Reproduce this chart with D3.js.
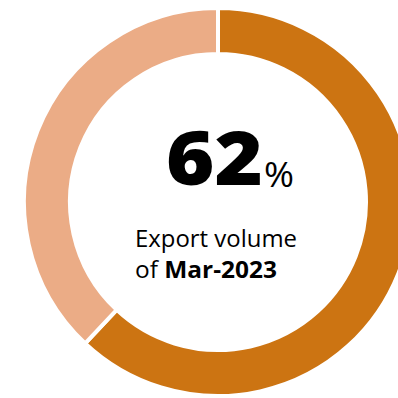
<!DOCTYPE html>
<html>
<head>
<meta charset="utf-8">
<script src="https://cdn.jsdelivr.net/npm/d3@7"></script>
<style>
  html, body { margin: 0; padding: 0; background: #ffffff; }
  svg { display: block; }
</style>
</head>
<body>
<script>
// Share of export volume for the month
const segments = ["Export volume", "Remaining"];
const shares = [62, 38];
const colors = ["#CC7412", "#EBAC86"];
const headline = "62";
const unit = "%";
const captionLine1 = "Export volume";
const captionPrefix = "of ";
const captionPeriod = "Mar-2023";

const W = 398, H = 398;
const cx = 218, cy = 202;
const outerR = 194, innerR = 148;

const svg = d3.select("body").append("svg")
  .attr("width", W).attr("height", H);

const pie = d3.pie().sort(null).value(d => d)(shares);
const arc = d3.arc().innerRadius(innerR).outerRadius(outerR);
const color = d3.scaleOrdinal().domain(segments).range(colors);

const g = svg.append("g").attr("transform", `translate(${cx},${cy})`);
g.selectAll("path")
  .data(pie)
  .join("path")
  .attr("d", arc)
  .attr("fill", (d, i) => color(segments[i]))
  .attr("stroke", "#ffffff")
  .attr("stroke-width", 4)
  .attr("stroke-linejoin", "miter");

const font = "'Open Sans', 'Noto Sans', sans-serif";

svg.append("text")
  .attr("x", 166).attr("y", 185)
  .attr("font-family", font).attr("font-weight", 800)
  .attr("font-size", 74)
  .attr("textLength", 97).attr("lengthAdjust", "spacingAndGlyphs")
  .attr("fill", "#000")
  .text(headline);

svg.append("text")
  .attr("x", 264).attr("y", 187)
  .attr("font-family", font).attr("font-weight", 400)
  .attr("font-size", 34)
  .attr("textLength", 30).attr("lengthAdjust", "spacingAndGlyphs")
  .attr("fill", "#000")
  .text(unit);

svg.append("text")
  .attr("x", 135).attr("y", 247)
  .attr("font-family", font).attr("font-size", 23.5)
  .attr("textLength", 162).attr("lengthAdjust", "spacingAndGlyphs")
  .attr("fill", "#000")
  .text(captionLine1);

const t2 = svg.append("text")
  .attr("x", 135).attr("y", 278)
  .attr("font-family", font).attr("font-size", 23.5)
  .attr("textLength", 142).attr("lengthAdjust", "spacingAndGlyphs")
  .attr("fill", "#000");
t2.append("tspan").text(captionPrefix);
t2.append("tspan").attr("font-weight", 700).text(captionPeriod);
</script>
</body>
</html>
